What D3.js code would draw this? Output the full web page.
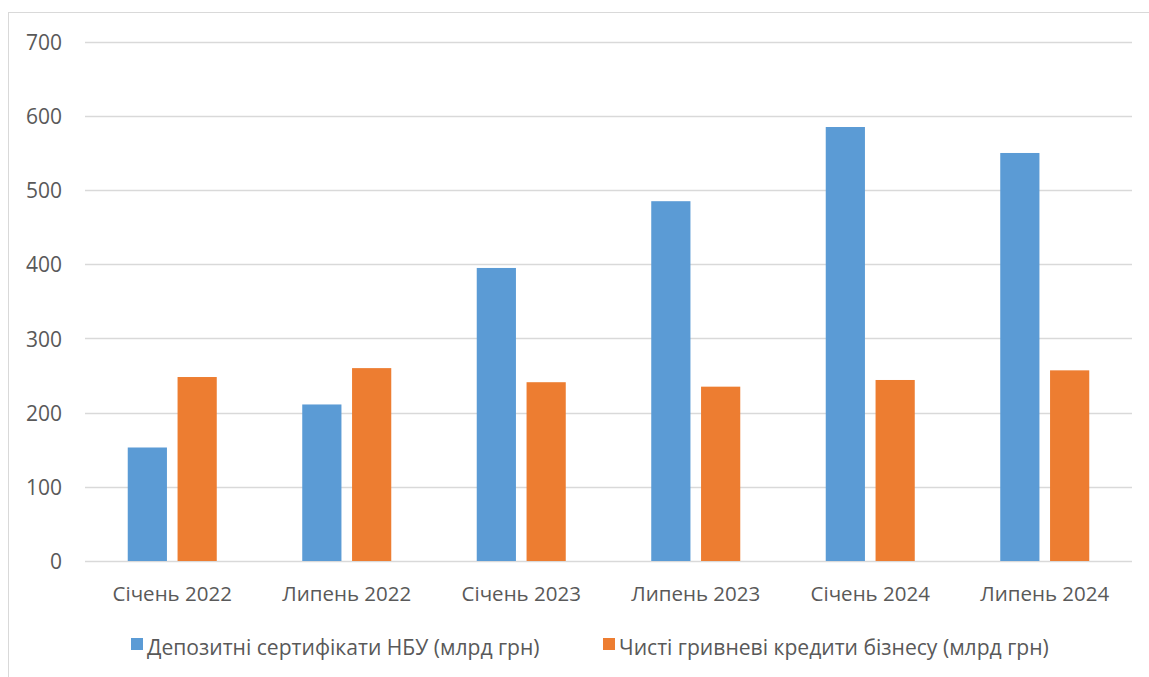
<!DOCTYPE html>
<html>
<head>
<meta charset="utf-8">
<script src="https://cdn.jsdelivr.net/npm/d3@7"></script>
<style>
  html, body { margin: 0; padding: 0; background: #fff; }
  svg { display: block; }
  text { font-family: "Open Sans", "Noto Sans", sans-serif; fill: #595959; }
</style>
</head>
<body>
<svg id="chart" width="1149" height="677"></svg>
<script>
// Periods on the category axis
const categories = ["Січень 2022", "Липень 2022", "Січень 2023", "Липень 2023", "Січень 2024", "Липень 2024"];
// Series names and values, bn UAH
const seriesNames = ["Депозитні сертифікати НБУ (млрд грн)", "Чисті гривневі кредити бізнесу (млрд грн)"];
const certificates = [153, 211, 395, 485, 585, 550];
const businessLoans = [248, 260, 241, 235, 244, 257];
const yTicks = [0, 100, 200, 300, 400, 500, 600, 700];
const colors = ["#5b9bd5", "#ed7d31"];

const seriesValues = [certificates, businessLoans];
const rows = categories.map((c, i) => ({ category: c, values: seriesValues.map(s => s[i]) }));

const svg = d3.select("#chart");
const W = 1149, H = 677;
const plot = { left: 85, right: 1132, top: 41.7, bottom: 561 };

// Outer chart frame
svg.append("rect")
  .attr("x", 8.5).attr("y", 12.5)
  .attr("width", W + 20).attr("height", H + 20)
  .attr("fill", "none").attr("stroke", "#d9d9d9").attr("stroke-width", 1);

const y = d3.scaleLinear().domain([0, 700]).range([plot.bottom, plot.top]);
const x0 = d3.scaleBand().domain(categories).range([plot.left, plot.right]).paddingInner(0).paddingOuter(0);
const x1 = d3.scaleBand().domain(d3.range(seriesNames.length))
  .range([0, x0.bandwidth()]).paddingInner(0.213).paddingOuter(0.858);

// Horizontal gridlines
svg.append("g")
  .selectAll("line")
  .data(yTicks)
  .join("line")
  .attr("x1", plot.left).attr("x2", plot.right)
  .attr("y1", d => Math.round(y(d)) + 0.5).attr("y2", d => Math.round(y(d)) + 0.5)
  .attr("stroke", "#d9d9d9").attr("stroke-width", 1.5);

// Y axis labels
const yAxis = d3.axisLeft(y).tickValues(yTicks).tickSize(0).tickPadding(0);
const gy = svg.append("g").attr("transform", "translate(62,0)").call(yAxis);
gy.select(".domain").remove();
gy.selectAll("text")
  .attr("font-size", "21px")
  .attr("dy", "0.36em")
  .style("font-family", "'Open Sans', sans-serif")
  .attr("fill", "#595959");

// Bars
const groups = svg.append("g")
  .selectAll("g")
  .data(rows)
  .join("g")
  .attr("transform", d => `translate(${x0(d.category)},0)`);

groups.selectAll("rect")
  .data(d => d.values.map((v, i) => ({ v, i })))
  .join("rect")
  .attr("x", d => x1(d.i))
  .attr("width", x1.bandwidth())
  .attr("y", d => y(d.v))
  .attr("height", d => y(0) - y(d.v))
  .attr("fill", d => colors[d.i]);

// X axis labels
const xAxis = d3.axisBottom(x0).tickSize(0).tickPadding(0);
const gx = svg.append("g").attr("transform", `translate(0,${plot.bottom})`).call(xAxis);
gx.select(".domain").remove();
gx.selectAll("text")
  .attr("font-size", "20.5px")
  .attr("y", 0)
  .attr("dy", "40px")
  .style("font-family", "'Open Sans', sans-serif")
  .attr("fill", "#595959");

// Legend
const legendItems = [
  { name: seriesNames[0], color: colors[0], x: 131 },
  { name: seriesNames[1], color: colors[1], x: 603 }
];
const legend = svg.append("g");
legendItems.forEach(item => {
  legend.append("rect")
    .attr("x", item.x).attr("y", 638)
    .attr("width", 12).attr("height", 12)
    .attr("fill", item.color);
  legend.append("text")
    .attr("x", item.x + 16).attr("y", 655)
    .attr("font-size", "21.1px")
    .text(item.name);
});
</script>
</body>
</html>
